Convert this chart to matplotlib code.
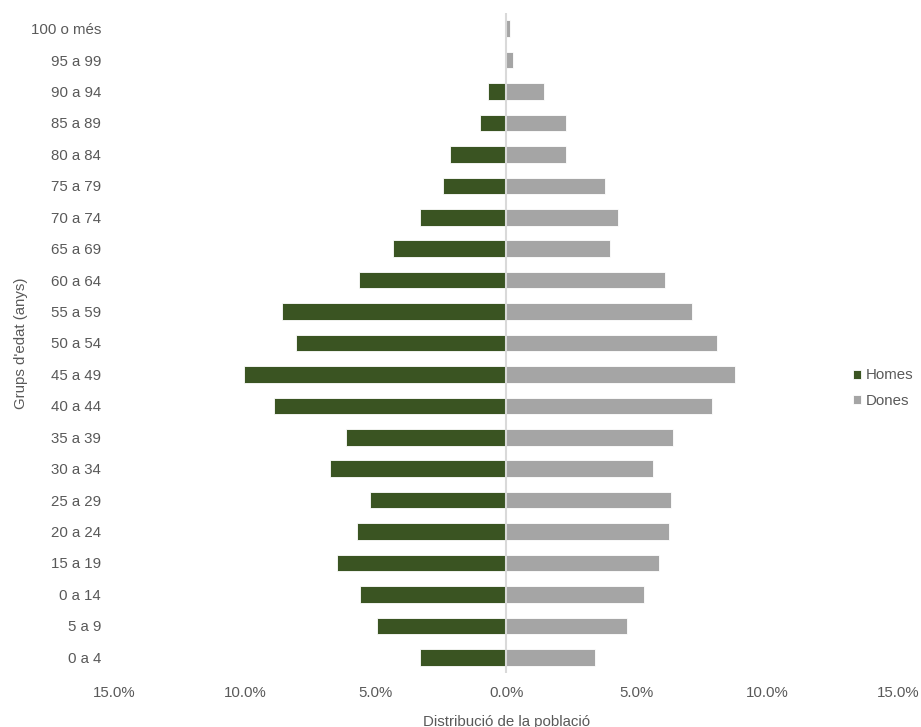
import numpy as np
import matplotlib.pyplot as plt
from matplotlib.ticker import FuncFormatter

plt.rcParams['font.family'] = ['Liberation Sans', 'DejaVu Sans']

# age groups, bottom to top (labels as shown in the source chart)
age_groups = ["0 a 4", "5 a 9", "0 a 14", "15 a 19", "20 a 24", "25 a 29",
              "30 a 34", "35 a 39", "40 a 44", "45 a 49", "50 a 54", "55 a 59",
              "60 a 64", "65 a 69", "70 a 74", "75 a 79", "80 a 84", "85 a 89",
              "90 a 94", "95 a 99", "100 o més"]

# percentage of population
homes = [3.32, 4.93, 5.59, 6.48, 5.73, 5.22, 6.76, 6.15, 8.88, 10.03, 8.05,
         8.58, 5.65, 4.33, 3.32, 2.43, 2.15, 1.01, 0.70, 0.06, 0.0]
dones = [3.41, 4.63, 5.28, 5.83, 6.23, 6.30, 5.62, 6.39, 7.89, 8.77, 8.08,
         7.12, 6.09, 3.99, 4.28, 3.79, 2.29, 2.29, 1.44, 0.27, 0.15]

x_ticks = [-15, -10, -5, 0, 5, 10, 15]

GREEN = '#3A5422'
GREY = '#A5A5A5'
TEXT = '#595959'
FS = 10.8

fig = plt.figure(figsize=(9.21, 7.27), dpi=100)
ax = fig.add_axes([114.5 / 921, 1 - 673 / 727, 783.5 / 921, 660 / 727])

y = np.arange(len(age_groups))
ax.barh(y, -np.array(homes), height=0.53, color=GREEN, edgecolor='white',
        linewidth=0.6, label='Homes', zorder=2)
ax.barh(y, dones, height=0.53, color=GREY, edgecolor='white',
        linewidth=0.6, label='Dones', zorder=2)
ax.axvline(0, color='#D9D9D9', linewidth=1.5, zorder=3)

ax.set_xlim(-15, 15)
ax.set_ylim(-0.5, len(age_groups) - 0.5)
ax.set_xticks(x_ticks)
ax.xaxis.set_major_formatter(FuncFormatter(lambda v, p: f"{abs(v):.1f}%"))
ax.set_yticks(y)
ax.set_yticklabels(age_groups)

for s in ax.spines.values():
    s.set_visible(False)
ax.tick_params(axis='both', length=0, labelsize=FS, labelcolor=TEXT)
ax.tick_params(axis='x', pad=9.4)
ax.tick_params(axis='y', pad=9.7)

ax.set_xlabel("Distribució de la població", fontsize=FS, color=TEXT)
ax.set_ylabel("Grups d'edat (anys)", fontsize=FS, color=TEXT)
ax.xaxis.set_label_coords(0.5, -0.063)
ax.yaxis.set_label_coords(-0.110, 0.5)

leg = ax.legend(loc='center left', bbox_to_anchor=(845 / 921, 1 - 388 / 727),
                bbox_transform=fig.transFigure, frameon=False, fontsize=FS,
                handlelength=0.55, handleheight=0.55, handletextpad=0.3,
                labelspacing=0.75, borderpad=0)
for t in leg.get_texts():
    t.set_color(TEXT)

fig.savefig('out.png', dpi=100)
